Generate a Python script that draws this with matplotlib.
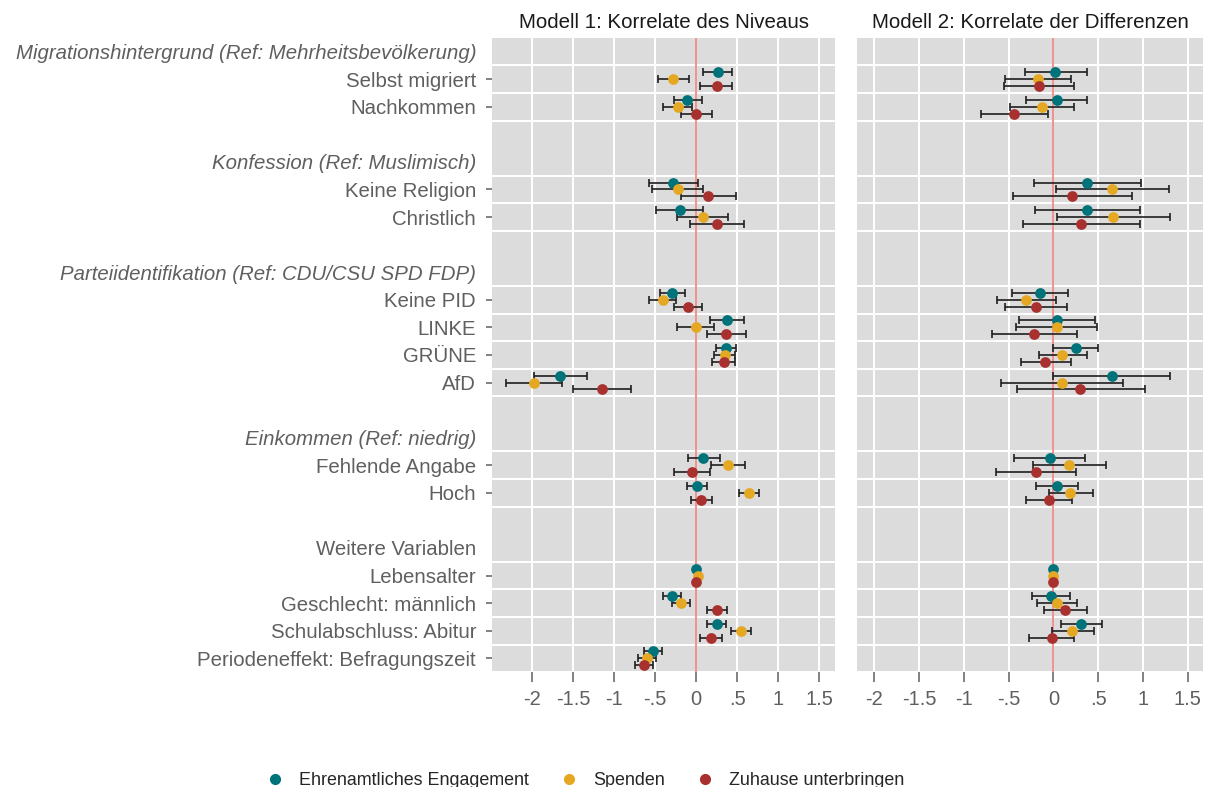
import numpy as np
import matplotlib
matplotlib.use("Agg")
from matplotlib import pyplot as plt
from matplotlib.lines import Line2D

plt.rcParams['font.family'] = ['Liberation Sans', 'DejaVu Sans']

# group headers, italic flag, and variables in each group (top to bottom)
headers = ['Migrationshintergrund (Ref: Mehrheitsbevölkerung)', 'Konfession (Ref: Muslimisch)',
           'Parteiidentifikation (Ref: CDU/CSU SPD FDP)', 'Einkommen (Ref: niedrig)', 'Weitere Variablen']
header_italic = [True, True, True, True, False]
group_vars = [['Selbst migriert', 'Nachkommen'],
              ['Keine Religion', 'Christlich'],
              ['Keine PID', 'LINKE', 'GRÜNE', 'AfD'],
              ['Fehlende Angabe', 'Hoch'],
              ['Lebensalter', 'Geschlecht: männlich', 'Schulabschluss: Abitur', 'Periodeneffekt: Befragungszeit']]

series = ['Ehrenamtliches Engagement', 'Spenden', 'Zuhause unterbringen']
colors = ['#00727A', '#E5A823', '#A8302F']

# Modell 1: estimate, lower, upper (order of variables as above)
m1_ehren = [0.27, -0.11, -0.28, -0.20, -0.29, 0.38, 0.37, -1.66, 0.09, 0.01, 0.00, -0.29, 0.25, -0.53]
m1_ehren_lo = [0.09, -0.27, -0.58, -0.49, -0.44, 0.17, 0.24, -1.98, -0.10, -0.11, 0.00, -0.40, 0.13, -0.63]
m1_ehren_hi = [0.44, 0.07, 0.02, 0.09, -0.13, 0.59, 0.49, -1.33, 0.29, 0.13, 0.00, -0.18, 0.37, -0.42]
m1_spend = [-0.28, -0.22, -0.22, 0.08, -0.41, 0.00, 0.35, -1.98, 0.39, 0.64, 0.02, -0.19, 0.55, -0.60]
m1_spend_lo = [-0.47, -0.40, -0.54, -0.23, -0.58, -0.23, 0.22, -2.32, 0.18, 0.52, 0.02, -0.29, 0.43, -0.71]
m1_spend_hi = [-0.09, -0.05, 0.09, 0.39, -0.25, 0.22, 0.48, -1.64, 0.60, 0.77, 0.02, -0.08, 0.67, -0.49]
m1_zuhause = [0.25, 0.00, 0.15, 0.25, -0.10, 0.37, 0.34, -1.15, -0.05, 0.06, 0.00, 0.25, 0.18, -0.64]
m1_zuhause_lo = [0.05, -0.18, -0.18, -0.07, -0.27, 0.13, 0.20, -1.50, -0.27, -0.06, 0.00, 0.13, 0.05, -0.75]
m1_zuhause_hi = [0.44, 0.19, 0.49, 0.58, 0.07, 0.61, 0.48, -0.79, 0.17, 0.20, 0.00, 0.38, 0.31, -0.52]

# Modell 2 (no Befragungszeit)
m2_ehren = [0.02, 0.04, 0.38, 0.38, -0.15, 0.04, 0.25, 0.65, -0.04, 0.04, 0.00, -0.03, 0.31, np.nan]
m2_ehren_lo = [-0.32, -0.30, -0.22, -0.21, -0.46, -0.38, 0.00, 0.00, -0.44, -0.19, 0.00, -0.24, 0.09, np.nan]
m2_ehren_hi = [0.37, 0.38, 0.98, 0.97, 0.16, 0.47, 0.50, 1.30, 0.35, 0.28, 0.00, 0.19, 0.54, np.nan]
m2_spend = [-0.17, -0.13, 0.66, 0.67, -0.30, 0.04, 0.10, 0.10, 0.17, 0.19, 0.00, 0.04, 0.21, np.nan]
m2_spend_lo = [-0.54, -0.48, 0.03, 0.04, -0.63, -0.42, -0.16, -0.59, -0.23, -0.05, 0.00, -0.18, -0.02, np.nan]
m2_spend_hi = [0.20, 0.23, 1.29, 1.30, 0.03, 0.49, 0.38, 0.78, 0.59, 0.44, 0.00, 0.26, 0.45, np.nan]
m2_zuhause = [-0.16, -0.44, 0.21, 0.31, -0.19, -0.22, -0.09, 0.30, -0.19, -0.05, 0.00, 0.13, -0.02, np.nan]
m2_zuhause_lo = [-0.55, -0.81, -0.45, -0.34, -0.54, -0.69, -0.36, -0.41, -0.64, -0.30, 0.00, -0.11, -0.27, np.nan]
m2_zuhause_hi = [0.23, -0.06, 0.88, 0.97, 0.15, 0.26, 0.20, 1.02, 0.25, 0.21, 0.00, 0.37, 0.23, np.nan]

xticks = [-2, -1.5, -1, -0.5, 0, 0.5, 1, 1.5]
xticklabels = ['-2', '-1.5', '-1', '-.5', '0', '.5', '1', '1.5']

# build row positions: header, variables, blank line
labels, pos, is_header, var_pos = [], [], [], []
r = 0
for h, vs in zip(headers, group_vars):
    labels.append(h); pos.append(r); is_header.append(True); r += 1
    for v in vs:
        labels.append(v); pos.append(r); is_header.append(False); var_pos.append(r); r += 1
    r += 1
last_row = r - 2
var_pos = np.array(var_pos)

fig = plt.figure(figsize=(12.09, 7.87), dpi=100)
ax1 = fig.add_axes([0.407, 0.146, 0.284, 0.806])
ax2 = fig.add_axes([0.709, 0.146, 0.286, 0.806])

models = [
    (ax1, [(m1_ehren, m1_ehren_lo, m1_ehren_hi), (m1_spend, m1_spend_lo, m1_spend_hi),
           (m1_zuhause, m1_zuhause_lo, m1_zuhause_hi)], (-2.49, 1.70), 'Modell 1: Korrelate des Niveaus'),
    (ax2, [(m2_ehren, m2_ehren_lo, m2_ehren_hi), (m2_spend, m2_spend_lo, m2_spend_hi),
           (m2_zuhause, m2_zuhause_lo, m2_zuhause_hi)], (-2.19, 1.67), 'Modell 2: Korrelate der Differenzen'),
]
offsets = [-0.25, 0.0, 0.25]
grey = '#5f5f5f'

for ax, data, xlim, title in models:
    ax.set_facecolor('#DCDCDC')
    for s in ax.spines.values():
        s.set_visible(False)
    for xt in xticks:
        ax.axvline(xt, color='white', lw=1.4, zorder=0)
    for p in var_pos:
        ax.axhline(p - 0.5, color='white', lw=1.4, zorder=0)
        ax.axhline(p + 0.5, color='white', lw=1.4, zorder=0)
    ax.axvline(0, color='#F1928C', lw=1.4, zorder=1)
    for (est, lo, hi), off, c in zip(data, offsets, colors):
        est = np.array(est); lo = np.array(lo); hi = np.array(hi)
        y = var_pos + off
        ax.errorbar(est, y, xerr=[est - lo, hi - est], fmt='none', ecolor='#1f1f1f',
                    elinewidth=1.2, capsize=3, capthick=1.2, zorder=2)
        ax.scatter(est, y, s=60, color=c, zorder=3, linewidths=0)
    ax.set_xlim(*xlim)
    ax.set_ylim(last_row + 0.5, -0.5)
    ax.set_xticks(xticks)
    ax.set_xticklabels(xticklabels, fontsize=14.5, color=grey)
    ax.tick_params(axis='x', length=7, width=1.1, color=grey, pad=6)
    ax.set_title(title, fontsize=14.8, color='#1a1a1a', pad=7)

ax1.set_yticks(pos)
ax1.set_yticklabels(labels, fontsize=14.7, color=grey)
ax1.tick_params(axis='y', length=4.5, width=1.1, color=grey, pad=7)
for t, hd in zip(ax1.yaxis.get_major_ticks(), is_header):
    if hd:
        t.tick1line.set_visible(False)
for lab, hd in zip(ax1.get_yticklabels(), is_header):
    if hd and header_italic[headers.index(lab.get_text())]:
        lab.set_style('italic')
ax2.set_yticks([])

handles = [Line2D([], [], marker='o', ls='none', color=c, markersize=7) for c in colors]
fig.legend(handles, series, loc='center', bbox_to_anchor=(0.484, 0.008), ncol=3, frameon=False,
           fontsize=12.9, columnspacing=1.75, handlelength=1.0, handletextpad=0.85,
           labelcolor='#262626')

fig.savefig('out.png', dpi=100)
